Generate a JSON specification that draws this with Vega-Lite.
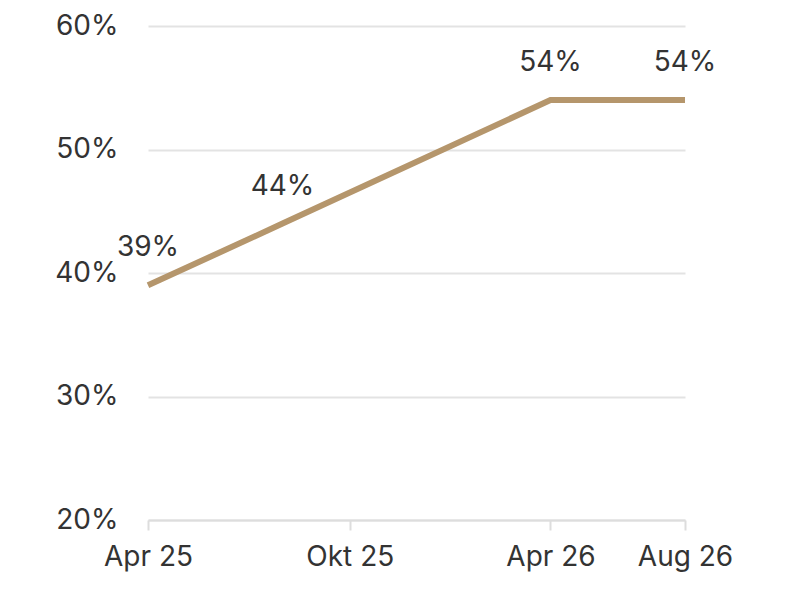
{
  "$schema": "https://vega.github.io/schema/vega-lite/v6.json",
  "width": 537,
  "height": 494,
  "autosize": "none",
  "padding": {"left": 148, "top": 26, "right": 120, "bottom": 80},
  "background": "#ffffff",
  "data": {
    "values": [
      {"date": "2025-04-01", "share": 0.39, "label": "39%"},
      {"date": "2025-08-01", "share": 0.44, "label": "44%"},
      {"date": "2026-04-01", "share": 0.54, "label": "54%"},
      {"date": "2026-08-01", "share": 0.54, "label": "54%"}
    ]
  },
  "encoding": {
    "x": {
      "field": "date",
      "type": "temporal",
      "scale": {
        "type": "utc",
        "domain": [
          {"year": 2025, "month": 4, "date": 1, "utc": true},
          {"year": 2026, "month": 8, "date": 1, "utc": true}
        ]
      },
      "axis": {
        "title": null,
        "grid": false,
        "values": [
          {"year": 2025, "month": 4, "date": 1, "utc": true},
          {"year": 2025, "month": 10, "date": 1, "utc": true},
          {"year": 2026, "month": 4, "date": 1, "utc": true},
          {"year": 2026, "month": 8, "date": 1, "utc": true}
        ],
        "labelExpr": "['Jan','Feb','Mär','Apr','Mai','Jun','Jul','Aug','Sep','Okt','Nov','Dez'][utcmonth(datum.value)] + ' ' + utcFormat(datum.value, '%y')",
        "labelAlign": "center",
        "labelFlush": false,
        "domainColor": "#dddddd",
        "domainWidth": 2,
        "tickColor": "#dddddd",
        "tickWidth": 2,
        "tickSize": 10,
        "labelPadding": 13,
        "labelFont": "Inter",
        "labelFontSize": 28,
        "labelColor": "#333333",
        "labelOverlap": false
      }
    },
    "y": {
      "field": "share",
      "type": "quantitative",
      "scale": {"domain": [0.2, 0.6]},
      "axis": {
        "title": null,
        "values": [0.2, 0.3, 0.4, 0.5, 0.6],
        "format": ".0%",
        "domain": false,
        "ticks": false,
        "gridColor": "#e3e3e3",
        "gridWidth": 2,
        "labelPadding": 30,
        "labelFont": "Inter",
        "labelFontSize": 28,
        "labelColor": "#333333"
      }
    }
  },
  "layer": [
    {
      "mark": {"type": "line", "color": "#b5966c", "strokeWidth": 6, "strokeCap": "butt"}
    },
    {
      "mark": {
        "type": "text",
        "font": "Inter",
        "fontSize": 28,
        "color": "#333333",
        "baseline": "middle",
        "dy": -37
      },
      "encoding": {"text": {"field": "label"}}
    }
  ],
  "config": {"view": {"stroke": null}}
}
